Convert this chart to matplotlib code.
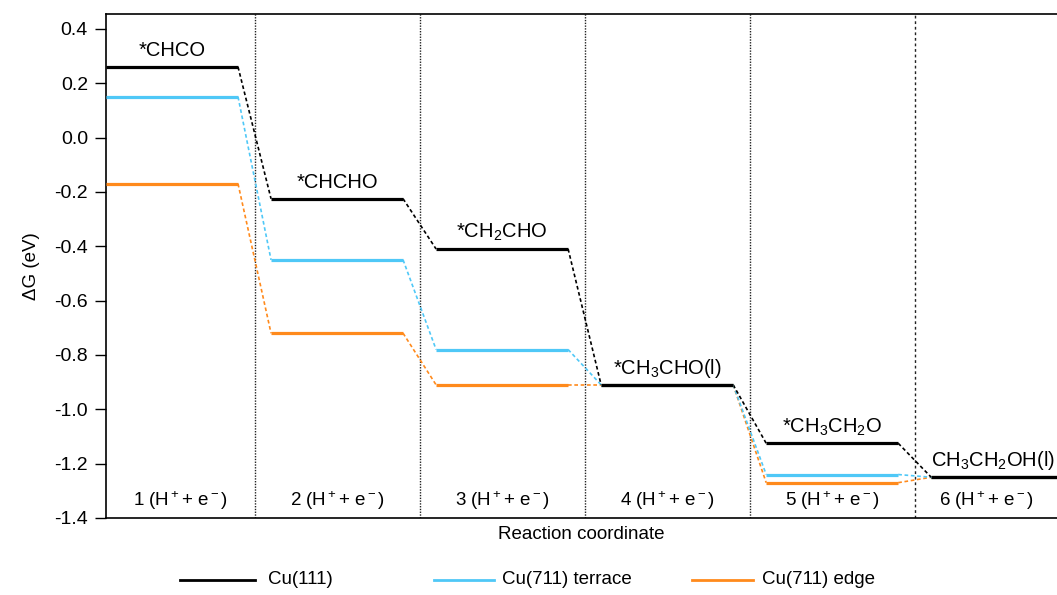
import matplotlib
matplotlib.use("Agg")
import matplotlib.pyplot as plt
from matplotlib.lines import Line2D

plt.rcParams["font.family"] = ["Liberation Sans", "DejaVu Sans"]
plt.rcParams["mathtext.fontset"] = "custom"
plt.rcParams["mathtext.rm"] = "Liberation Sans"
plt.rcParams["mathtext.it"] = "Liberation Sans:italic"

# free energy levels (eV) for each step
cu111 = [0.26, -0.225, -0.41, -0.91, -1.125, -1.25]
cu711_terrace = [0.15, -0.45, -0.78, -0.91, -1.24, -1.25]
cu711_edge = [-0.17, -0.72, -0.91, -0.91, -1.27, -1.25]

intermediates = ["*CHCO", "*CHCHO", "*CH$_\\mathregular{2}$CHO",
                 "*CH$_\\mathregular{3}$CHO(l)", "*CH$_\\mathregular{3}$CH$_\\mathregular{2}$O",
                 "CH$_\\mathregular{3}$CH$_\\mathregular{2}$OH(l)"]
steps = ["%d (H$\\mathregular{^+}$+ e$\\mathregular{^-}$)" % i for i in range(1, 7)]

series = [
    (cu111, "black", "Cu(111)"),
    (cu711_terrace, "#4fc8f7", "Cu(711) terrace"),
    (cu711_edge, "#ff8a1c", "Cu(711) edge"),
]

XMIN, XMAX = 0.1, 5.862

fig = plt.figure(figsize=(10.57, 5.95), dpi=100)
ax = fig.add_axes([106 / 1057, 1 - 518 / 595, 1 - 106 / 1057, (518 - 14) / 595])

# draw cyan and orange first, black on top
for values, color, name in series[::-1]:
    for i, v in enumerate(values):
        ax.plot([i + 0.1, i + 0.9], [v, v], color=color, lw=2.3, solid_capstyle="butt", zorder=3)
        if i + 1 < len(values):
            ax.plot([i + 0.9, i + 1.1], [v, values[i + 1]], color=color, lw=1.2,
                    linestyle=(0, (2.2, 1.6)), zorder=2)

for b in range(1, 6):
    ls = (0, (1, 1)) if b < 5 else (0, (2, 2))
    ax.axvline(b, color="#222222", lw=1.0, linestyle=ls, zorder=1)

for i, label in enumerate(intermediates):
    if i < len(intermediates) - 1:
        ax.text(i + 0.5, cu111[i] + 0.04, label, ha="center", va="baseline", fontsize=14.5)
    else:
        # last one would run off the right edge, keep it inside
        ax.text(XMAX - 0.01, cu111[i] + 0.04, label, ha="right", va="baseline", fontsize=14.5)

for i, label in enumerate(steps):
    left = max(i, XMIN)
    right = min(i + 1, XMAX)
    ax.text((left + right) / 2, -1.355, label, ha="center", va="baseline", fontsize=13.5)

ax.set_xlim(XMIN, XMAX)
ax.set_ylim(-1.4, 0.455)
ax.set_yticks([0.4, 0.2, 0.0, -0.2, -0.4, -0.6, -0.8, -1.0, -1.2, -1.4])
ax.set_yticklabels(["%.1f" % t for t in ax.get_yticks()])
ax.set_xticks([])
ax.tick_params(axis="y", direction="out", length=8, width=1, pad=5, labelsize=14)
ax.spines["right"].set_visible(False)
for s in ["left", "bottom", "top"]:
    ax.spines[s].set_linewidth(1.2)
ax.set_ylabel("ΔG (eV)", fontsize=13.5, labelpad=10)
ax.set_xlabel("Reaction coordinate", fontsize=13.5, labelpad=6)

# legend drawn by hand below the axes
legend_pos = [(180, 255, 268), (434, 494, 502), (692, 753, 762)]
ly = 1 - 580 / 595
for (x0, x1, xt), (values, color, name) in zip(legend_pos, series):
    fig.add_artist(Line2D([x0 / 1057, x1 / 1057], [ly, ly], color=color, lw=2,
                          transform=fig.transFigure))
    fig.text(xt / 1057, ly, name, ha="left", va="center", fontsize=13.5)

fig.savefig("out.png", dpi=100)
